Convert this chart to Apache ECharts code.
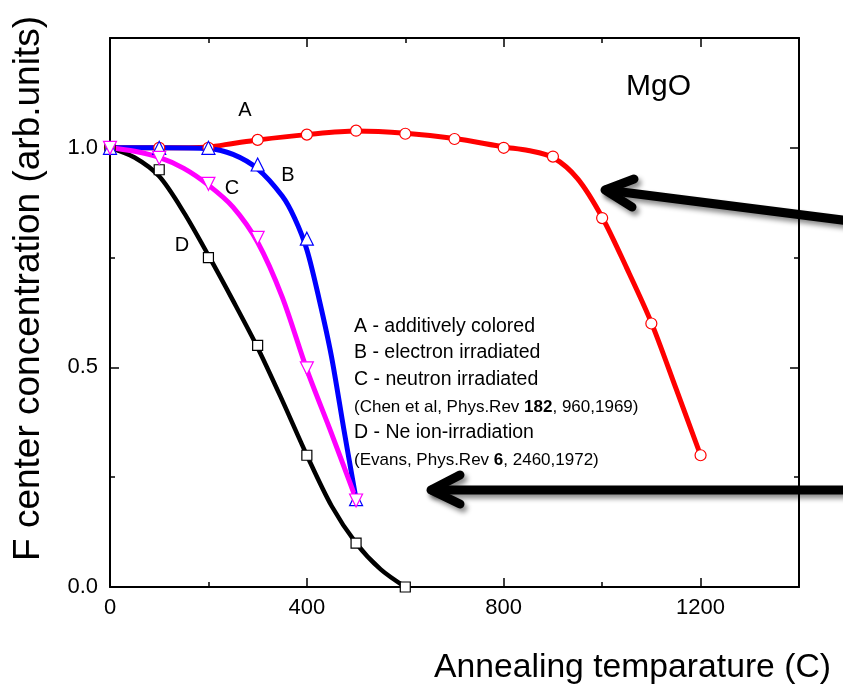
<!DOCTYPE html>
<html><head><meta charset="utf-8">
<script src="https://cdn.jsdelivr.net/npm/echarts@6/dist/echarts.min.js"></script>
<style>html,body{margin:0;padding:0;background:#fff}#c{width:843px;height:688px}</style>
</head><body><div id="c"></div>
<script>
const FONT = '"Liberation Sans", Arial, Helvetica, sans-serif';

const tempA = [0, 100, 200, 300, 400, 500, 600, 700, 800, 900, 1000, 1100, 1200];
const concA = [1.0, 1.0, 1.0, 1.018, 1.03, 1.039, 1.032, 1.02, 1.0, 0.98, 0.84, 0.60, 0.30];
const tempB = [0, 100, 200, 300, 400, 500];
const concB = [1.0, 1.0, 1.0, 0.962, 0.793, 0.2];
const tempC = [0, 100, 200, 300, 400, 500];
const concC = [1.0, 0.977, 0.918, 0.795, 0.498, 0.197];
const tempD = [0, 100, 200, 300, 400, 500, 600];
const concD = [1.0, 0.95, 0.75, 0.55, 0.30, 0.10, 0.0];

// Fitted curves, values read along the drawn lines of the reference
const fitTempA = [0, 100, 200, 250, 300, 400, 500, 600, 700, 800, 850, 900, 950, 1000, 1050, 1100, 1150, 1200];
const fitConcA = [1.0, 1.0, 1.002, 1.01, 1.018, 1.03, 1.038, 1.033, 1.021, 1.002, 0.994, 0.978, 0.93, 0.842, 0.726, 0.602, 0.452, 0.30];
const fitTempB = [0, 100, 200, 250, 300, 350, 375, 400, 425, 450, 475, 500];
const fitConcB = [1.0, 1.0, 0.998, 0.985, 0.952, 0.89, 0.84, 0.768, 0.655, 0.525, 0.36, 0.2];
const fitTempC = [0, 50, 100, 150, 200, 250, 300, 350, 400, 450, 500];
const fitConcC = [1.0, 0.992, 0.978, 0.953, 0.915, 0.865, 0.785, 0.66, 0.495, 0.35, 0.2];
const fitTempD = [0, 50, 100, 150, 200, 250, 300, 350, 400, 450, 500, 550, 600];
const fitConcD = [1.0, 0.978, 0.935, 0.853, 0.755, 0.652, 0.545, 0.425, 0.30, 0.185, 0.10, 0.04, 0.0];

const xTickLabels = [0, 400, 800, 1200];
const yTickLabels = [0.0, 0.5, 1.0];

const curveLabels = ['A', 'B', 'C', 'D'];
const legendLines = [
  'A - additively colored',
  'B - electron irradiated',
  'C - neutron irradiated',
  '(Chen et al, Phys.Rev {b|182}, 960,1969)',
  'D - Ne ion-irradiation',
  '(Evans, Phys.Rev {b|6}, 2460,1972)'
];
const titleX = 'Annealing temparature (C)';
const titleY = 'F center concentration (arb.units)';
const sampleName = 'MgO';

function pairs(xs, ys) { return xs.map((x, i) => [x, ys[i]]); }

const chart = echarts.init(document.getElementById('c'), null, {renderer: 'canvas'});

function xAx(pos, interval, len, showLine, showLabel) {
  return {
    type: 'value', min: 0, max: 1400, interval: interval, position: pos,
    axisLine: {show: showLine, onZero: false, lineStyle: {color: '#000', width: 2}},
    axisTick: {show: true, inside: true, length: len, lineStyle: {color: '#000', width: 1.5}},
    axisLabel: showLabel ? {
      show: true, margin: 10, color: '#000', fontSize: 22, fontFamily: FONT,
      formatter: v => xTickLabels.indexOf(v) >= 0 ? String(v) : ''
    } : {show: false},
    splitLine: {show: false}
  };
}
function yAx(pos, interval, len, showLine, showLabel) {
  return {
    type: 'value', min: 0, max: 1.25, interval: interval, position: pos,
    axisLine: {show: showLine, onZero: false, lineStyle: {color: '#000', width: 2}},
    axisTick: {show: true, inside: true, length: len, lineStyle: {color: '#000', width: 1.5}},
    axisLabel: showLabel ? {
      show: true, margin: 12, color: '#000', fontSize: 22, fontFamily: FONT,
      formatter: v => yTickLabels.some(t => Math.abs(t - v) < 1e-9) ? v.toFixed(1) : ''
    } : {show: false},
    splitLine: {show: false}
  };
}

function curve(name, xs, ys, color, width) {
  return {
    name: name + ' fit', type: 'line', xAxisIndex: 0, yAxisIndex: 0,
    data: pairs(xs, ys), smooth: 0.3, showSymbol: false, symbol: 'none',
    lineStyle: {color: color, width: width, cap: 'round', join: 'round'},
    emphasis: {disabled: true}, z: 2
  };
}
function markers(name, xs, ys, color, symbol, rotate, size) {
  return {
    name: name, type: 'scatter', xAxisIndex: 0, yAxisIndex: 0,
    data: pairs(xs, ys), symbol: symbol, symbolSize: size, symbolRotate: rotate,
    itemStyle: {color: '#fff', borderColor: color, borderWidth: 1.2, opacity: 1},
    emphasis: {disabled: true}, z: 3
  };
}

const legendY = [327, 353, 380, 407, 433, 460];
const legendSizes = [19.5, 19.5, 19.5, 17, 19.5, 17];

const graphics = [];
legendLines.forEach((t, i) => {
  graphics.push({
    type: 'text', x: 354, y: legendY[i], silent: true,
    style: {
      text: t, fill: '#000', font: legendSizes[i] + 'px ' + FONT,
      textAlign: 'left', textVerticalAlign: 'middle',
      rich: {b: {fontWeight: 'bold', fontSize: legendSizes[i], fontFamily: FONT, fill: '#000'}}
    }
  });
});
const curveLabelPos = [[245, 110], [288, 175], [232, 188], [182, 245]];
curveLabels.forEach((t, i) => {
  graphics.push({
    type: 'text', x: curveLabelPos[i][0], y: curveLabelPos[i][1], silent: true,
    style: {text: t, fill: '#000', font: '20px ' + FONT, textAlign: 'center', textVerticalAlign: 'middle'}
  });
});
graphics.push({
  type: 'text', x: 626, y: 87, silent: true,
  style: {text: sampleName, fill: '#000', font: '30px ' + FONT, textAlign: 'left', textVerticalAlign: 'middle'}
});
graphics.push({
  type: 'text', x: 434, y: 668, silent: true,
  style: {text: titleX, fill: '#000', font: '33.7px ' + FONT, textAlign: 'left', textVerticalAlign: 'middle'}
});
graphics.push({
  type: 'text', x: 29, y: 561, rotation: Math.PI / 2, silent: true,
  style: {text: titleY, fill: '#000', font: '37px ' + FONT, textAlign: 'left', textVerticalAlign: 'middle'}
});
// Annotation arrows
const arrowStyle = {
  stroke: '#000', lineWidth: 9, lineCap: 'round', lineJoin: 'round', fill: null,
  shadowBlur: 5, shadowOffsetX: 3, shadowOffsetY: 4, shadowColor: 'rgba(0,0,0,0.45)'
};
graphics.push({type: 'polyline', silent: true, shape: {points: [[850, 221], [606, 190]]}, style: arrowStyle});
graphics.push({type: 'polyline', silent: true, shape: {points: [[634, 179], [605, 190], [632, 207]]}, style: arrowStyle});
graphics.push({type: 'polyline', silent: true, shape: {points: [[850, 490], [432, 490]]}, style: arrowStyle});
graphics.push({type: 'polyline', silent: true, shape: {points: [[460, 475], [431, 490], [460, 504]]}, style: arrowStyle});

chart.setOption({
  animation: false,
  backgroundColor: '#fff',
  grid: {left: 110, top: 38, right: 44, bottom: 101, containLabel: false},
  xAxis: [
    xAx('bottom', 200, 5, true, false),
    xAx('bottom', 400, 9, false, true),
    xAx('top', 200, 5, true, false),
    xAx('top', 400, 9, false, false)
  ],
  yAxis: [
    yAx('left', 0.25, 5, true, false),
    yAx('left', 0.5, 9, false, true),
    yAx('right', 0.25, 5, true, false),
    yAx('right', 0.5, 9, false, false)
  ],
  series: [
    curve('A', fitTempA, fitConcA, '#ff0000', 5),
    curve('D', fitTempD, fitConcD, '#000000', 4.5),
    curve('B', fitTempB, fitConcB, '#0000ff', 5),
    curve('C', fitTempC, fitConcC, '#ff00ff', 5),
    markers('A', tempA, concA, '#ff0000', 'circle', 0, 11),
    markers('D', tempD, concD, '#000000', 'rect', 0, 10),
    markers('B', tempB, concB, '#0000ff', 'triangle', 0, 13),
    markers('C', tempC, concC, '#ff00ff', 'triangle', 180, 13)
  ],
  graphic: {elements: graphics}
});
</script>
</body></html>
